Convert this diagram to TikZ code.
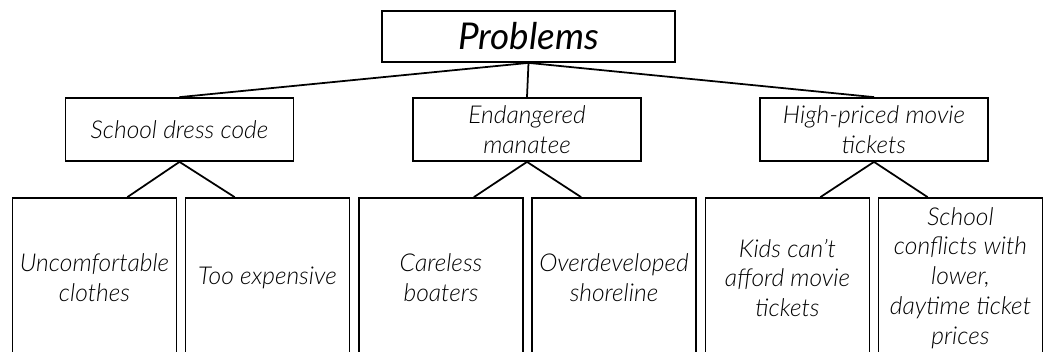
\documentclass[tikz,border=0pt]{standalone}
\usepackage{fontspec}
\setmainfont{Lato}[UprightFont=* Light, ItalicFont=* Light Italic, BoldFont=*, BoldItalicFont=* Italic]
\usetikzlibrary{positioning, calc}

\begin{document}
\begin{tikzpicture}[x=0.02cm, y=-0.02cm,
    box/.style={draw, line width=1pt, align=center, inner sep=0pt,
      font=\fontsize{14}{17}\selectfont\itshape},
    topic/.style={box, minimum width=4.56cm, minimum height=1.26cm},
    cause/.style={box, minimum width=3.28cm, minimum height=3.2cm}]
  \useasboundingbox (0,0) rectangle (1046,352);
  \clip (0,0) rectangle (1046,352);

  % root
  \node[box, minimum width=5.86cm, minimum height=1.02cm,
    font=\fontsize{21}{24}\selectfont\bfseries\itshape] (problems) at (528.5,36.5) {Problems};

  % topics
  \node[topic] (dress) at (179.5,129.5) {School dress code};
  \node[topic] (manatee) at (527,129.5) {Endangered\\manatee};
  \node[topic] (tickets) at (874,129.5) {High-priced movie\\tickets};

  % causes
  \node[cause] (clothes) at (94.5,278) {Uncomfortable\\clothes};
  \node[cause] (expensive) at (267.5,278) {Too expensive};
  \node[cause] (boaters) at (441,278) {Careless\\boaters};
  \node[cause] (shoreline) at (614,278) {Overdeveloped\\shoreline};
  \node[cause] (afford) at (787.5,278) {Kids can't\\afford movie\\tickets};
  \node[cause] (conflicts) at (960.5,278) {School\\conflicts with\\lower,\\daytime ticket\\prices};

  \draw[line width=1pt] (problems.south) -- (dress.north);
  \draw[line width=1pt] (problems.south) -- (manatee.north);
  \draw[line width=1pt] (problems.south) -- (tickets.north);

  \draw[line width=1pt] ($(clothes.north east)+(-50,0)$) -- (dress.south) -- ($(expensive.north west)+(50,0)$);
  \draw[line width=1pt] ($(boaters.north east)+(-50,0)$) -- (manatee.south) -- ($(shoreline.north west)+(50,0)$);
  \draw[line width=1pt] ($(afford.north east)+(-50,0)$) -- (tickets.south) -- ($(conflicts.north west)+(50,0)$);
\end{tikzpicture}
\end{document}
